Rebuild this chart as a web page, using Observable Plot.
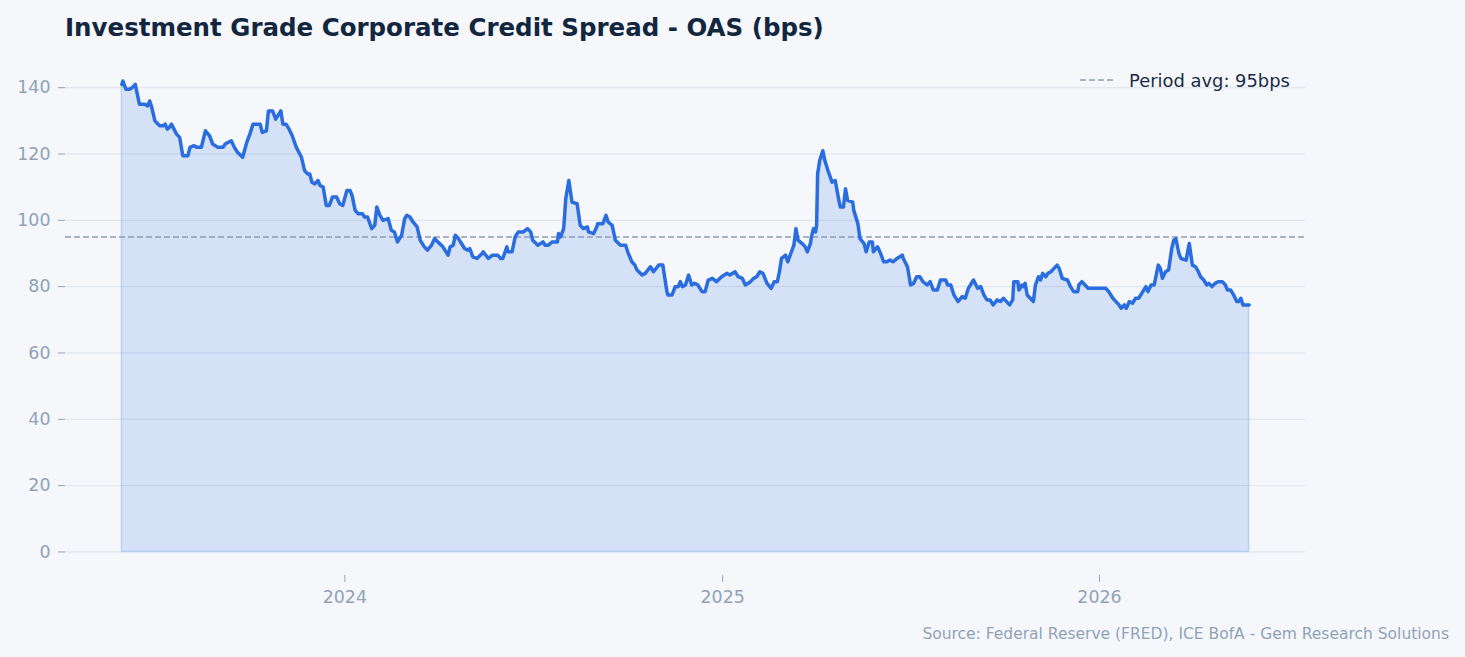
<!DOCTYPE html>
<html><head><meta charset="utf-8">
<script src="https://cdn.jsdelivr.net/npm/d3@7"></script>
<script src="https://cdn.jsdelivr.net/npm/@observablehq/plot@0.6"></script>
<style>
html,body{margin:0;padding:0;background:#f5f7fb;}
body{width:1465px;height:657px;overflow:hidden;font-family:"DejaVu Sans",sans-serif;}
#title{height:50px;box-sizing:border-box;padding:14px 0 0 65px;font-size:24.5px;font-weight:bold;color:#12263f;line-height:28px;white-space:nowrap;}
#chart{height:570px;}
#caption{height:37px;box-sizing:border-box;text-align:right;padding-right:16px;font-size:15.5px;line-height:28px;color:#8fa3b8;white-space:nowrap;}
</style></head><body>
<div id="title">Investment Grade Corporate Credit Spread - OAS (bps)</div>
<div id="chart"></div>
<div id="caption">Source: Federal Reserve (FRED), ICE BofA - Gem Research Solutions</div>
<script>
const dates = [
"2023-05-30","2023-05-31","2023-06-03","2023-06-06","2023-06-09","2023-06-12","2023-06-16","2023-06-21","2023-06-24","2023-06-26","2023-06-28",
"2023-07-01","2023-07-04","2023-07-06","2023-07-09","2023-07-11","2023-07-13","2023-07-15","2023-07-17","2023-07-22","2023-07-25","2023-07-28",
"2023-08-02","2023-08-04","2023-08-08","2023-08-11","2023-08-15","2023-08-19","2023-08-23","2023-08-26","2023-08-31",
"2023-09-05","2023-09-07","2023-09-13","2023-09-16","2023-09-19","2023-09-24","2023-09-28",
"2023-10-01","2023-10-04","2023-10-11","2023-10-13","2023-10-17","2023-10-19","2023-10-23","2023-10-26","2023-10-28","2023-10-31",
"2023-11-02","2023-11-05","2023-11-08","2023-11-11","2023-11-15","2023-11-20","2023-11-23","2023-11-26","2023-11-28","2023-11-30",
"2023-12-03","2023-12-06","2023-12-08","2023-12-11","2023-12-14","2023-12-17","2023-12-20","2023-12-24","2023-12-27","2023-12-30",
"2024-01-03","2024-01-06","2024-01-08","2024-01-11","2024-01-14","2024-01-18","2024-01-20","2024-01-23","2024-01-27","2024-01-30",
"2024-02-01","2024-02-04","2024-02-07","2024-02-12","2024-02-15","2024-02-18","2024-02-21","2024-02-25","2024-02-28",
"2024-03-01","2024-03-04","2024-03-07","2024-03-11","2024-03-14","2024-03-18","2024-03-21","2024-03-25","2024-03-28","2024-03-31",
"2024-04-05","2024-04-10","2024-04-12","2024-04-15","2024-04-17","2024-04-20","2024-04-23","2024-04-26","2024-04-29",
"2024-05-01","2024-05-04","2024-05-08","2024-05-13","2024-05-14","2024-05-19","2024-05-23","2024-05-28","2024-05-31",
"2024-06-02","2024-06-06","2024-06-07","2024-06-11","2024-06-14","2024-06-17","2024-06-22","2024-06-26","2024-06-29",
"2024-07-01","2024-07-06","2024-07-11","2024-07-13","2024-07-16","2024-07-20","2024-07-25","2024-07-26","2024-07-28","2024-07-31",
"2024-08-02","2024-08-05","2024-08-08","2024-08-13","2024-08-16","2024-08-19","2024-08-23","2024-08-24","2024-08-29",
"2024-09-01","2024-09-02","2024-09-07","2024-09-10","2024-09-12","2024-09-16","2024-09-19","2024-09-24","2024-09-29",
"2024-10-01","2024-10-05","2024-10-08","2024-10-10","2024-10-15","2024-10-18","2024-10-23","2024-10-26","2024-10-31",
"2024-11-04","2024-11-08","2024-11-09","2024-11-13","2024-11-16","2024-11-19","2024-11-21","2024-11-23","2024-11-26","2024-11-29",
"2024-12-02","2024-12-05","2024-12-08","2024-12-12","2024-12-15","2024-12-18","2024-12-22","2024-12-26","2024-12-31",
"2025-01-05","2025-01-08","2025-01-13","2025-01-16","2025-01-20","2025-01-23","2025-01-28","2025-01-31",
"2025-02-03","2025-02-06","2025-02-09","2025-02-13","2025-02-17","2025-02-20","2025-02-23","2025-02-25","2025-02-27",
"2025-03-03","2025-03-05","2025-03-08","2025-03-11","2025-03-13","2025-03-15","2025-03-19","2025-03-22","2025-03-24","2025-03-27","2025-03-28","2025-03-30",
"2025-04-01","2025-04-02","2025-04-03","2025-04-05","2025-04-08","2025-04-10","2025-04-13","2025-04-17","2025-04-20","2025-04-23","2025-04-25","2025-04-28","2025-04-30",
"2025-05-02","2025-05-07","2025-05-08","2025-05-12","2025-05-14","2025-05-18","2025-05-20","2025-05-23","2025-05-26","2025-05-27","2025-05-31",
"2025-06-03","2025-06-06","2025-06-09","2025-06-12","2025-06-15","2025-06-19","2025-06-24","2025-06-25","2025-06-29",
"2025-07-02","2025-07-05","2025-07-08","2025-07-11","2025-07-14","2025-07-18","2025-07-21","2025-07-24","2025-07-28","2025-07-31",
"2025-08-05","2025-08-07","2025-08-10","2025-08-13","2025-08-17","2025-08-21","2025-08-24","2025-08-27",
"2025-09-01","2025-09-05","2025-09-08","2025-09-11","2025-09-14","2025-09-17","2025-09-20","2025-09-24","2025-09-27","2025-09-30",
"2025-10-03","2025-10-06","2025-10-09","2025-10-10","2025-10-14","2025-10-15","2025-10-18","2025-10-19","2025-10-21","2025-10-23","2025-10-26","2025-10-29","2025-10-31",
"2025-11-03","2025-11-05","2025-11-07","2025-11-10","2025-11-12","2025-11-15","2025-11-18","2025-11-21","2025-11-23","2025-11-26",
"2025-12-01","2025-12-04","2025-12-07","2025-12-11","2025-12-12","2025-12-15","2025-12-18","2025-12-21","2025-12-26","2025-12-31",
"2026-01-07","2026-01-10","2026-01-14","2026-01-17","2026-01-20","2026-01-22","2026-01-25","2026-01-27","2026-01-30",
"2026-02-02","2026-02-05","2026-02-08","2026-02-12","2026-02-15","2026-02-17","2026-02-20","2026-02-23","2026-02-27",
"2026-03-01","2026-03-03","2026-03-06","2026-03-09","2026-03-12","2026-03-14","2026-03-16","2026-03-19","2026-03-21","2026-03-26","2026-03-28","2026-03-29",
"2026-04-01","2026-04-04","2026-04-06","2026-04-09","2026-04-12","2026-04-15","2026-04-17","2026-04-20","2026-04-23","2026-04-26","2026-04-30",
"2026-05-03","2026-05-05","2026-05-08","2026-05-11","2026-05-14","2026-05-16","2026-05-18","2026-05-20","2026-05-26"
];
const oasValues = [
141,142,139.5,139.5,140,141,135,135,134.5,136,134,
130,129,128.5,128.5,129,127.5,128,129,126,125,119.5,
119.5,122,122.5,122,122,127,125.5,123,122,
122,123,124,122,120.5,119,123.5,
126,129,129,126.5,127,133,133,130.5,131.5,133,
129,129,127.5,125.5,122,119,115,114,114,111.5,
111,112,110.5,110,104.5,104.5,107,107,105,104.5,
109,109,107.5,103,102,102,101,101,97.5,98.5,
104,101.5,100,100.5,97,96.5,93.5,95.5,100.5,
101.5,101,99.5,98,94,92,91,92.5,94.5,93.5,
92,89.5,92,92.5,95.5,94.5,93,91.5,91,
91.5,89,88.5,90,90.5,88.5,89.5,89.5,88.5,
88.5,92,90.5,90.5,95,96.5,96.5,97.5,96.5,
94,92.5,93.5,92.5,92.5,93.5,93.5,96,95,97.5,
106.5,112,105.5,105,98.5,97.5,98,96.5,96,
98,99,99,101.5,99.5,98.5,94,92.5,92.5,
90.5,87.5,86.5,85,83.5,84,86,84.5,86.5,
86.5,78.5,77.5,77.5,80,80,81.5,80,80.5,83.5,
80.5,81,80.5,78.5,78.5,82,82.5,81.5,83,
84,83.5,84.5,83,82.5,80.5,81.5,82.5,
83,84.5,84,81,79.5,81.5,81.5,84.5,88.5,
89.5,87.5,90,92.5,97.5,94,93,92,90.5,93,95,97.5,
96.5,98.5,114,118,121,118,115,111.5,112,107,104,104,109.5,
106,105.5,103,99,94.5,93,90.5,93.5,93.5,90.5,92,
90,87.5,87.5,88,87.5,88.5,89.5,88.5,86,
80.5,81,83,83,81.5,80.5,81.5,79,79,82,
82,80.5,80.5,77.5,75.5,77,76.5,79.5,
82,79.5,80,77.5,76,76,74.5,76,75.5,76.5,
75.5,74.5,76,81.5,81.5,79,80.5,80,81,77.5,76.5,75.5,80.5,
83,82,84,83,84,84.5,85.5,86.5,85.5,82.5,
82,80,78.5,78.5,80.5,81.5,80.5,79.5,79.5,79.5,
79.5,78.5,76.5,75.5,74.5,73.5,74.5,73.5,75.5,
75,76.5,76.5,78.5,80,78.5,80.5,80.5,86.5,
85.5,82.5,84.5,85,91.5,94,94.5,90,88.5,88,91.5,93,
86.5,86,85,83,82,80.5,81,80,81,81.5,81.5,
80.5,79,79,77.5,75.5,75.5,76.5,74.5,74.5
];
const periodAvg = 95;
const yTickValues = [0, 20, 40, 60, 80, 100, 120, 140];
const yearTicks = ["2024", "2025", "2026"];
const titleText = "Investment Grade Corporate Credit Spread - OAS (bps)";
const legendLabel = `Period avg: ${periodAvg}bps`;

const parse = d3.utcParse("%Y-%m-%d");
const data = dates.map((d, i) => ({date: parse(d), oas: oasValues[i]}));
const [t0, t1] = d3.extent(data, d => d.date);
const tPad = (t1 - t0) * 0.05;
const xDomain = [new Date(+t0 - tPad), new Date(+t1 + tPad)];
const vMax = d3.max(oasValues);
const yPad = vMax * 0.05;
const yDomain = [0 - yPad, vMax + yPad];
const xTicks = yearTicks.map(d3.utcParse("%Y"));

const blue = "#2a6ddf";
const tickColor = "#8fa3b8";

const legendMark = (index, scales, values, dims) => {
  const g = d3.create("svg:g");
  const start = dims.width - dims.marginRight - 176;
  const yy = 31;
  g.append("line")
    .attr("x1", start - 49).attr("x2", start - 14)
    .attr("y1", yy - 1).attr("y2", yy - 1)
    .attr("stroke", "#8e9db3").attr("stroke-width", 1.5)
    .attr("stroke-dasharray", "6,3");
  g.append("text")
    .attr("x", start).attr("y", yy).attr("dy", "0.35em")
    .attr("text-anchor", "start")
    .attr("fill", "#1a2b45").attr("font-size", "17.9px")
    .text(legendLabel);
  return g.node();
};

const chart = Plot.plot({
  width: 1465,
  height: 570,
  marginTop: 7,
  marginBottom: 45,
  marginLeft: 65,
  marginRight: 160,
  style: {background: "transparent", fontFamily: "DejaVu Sans", fontSize: "17.4px", overflow: "visible"},
  x: {type: "utc", domain: xDomain},
  y: {domain: yDomain},
  marks: [
    Plot.gridY(yTickValues, {stroke: "#dde3ec", strokeOpacity: 1, strokeWidth: 1}),
    Plot.areaY(data, {x: "date", y: "oas", fill: blue, fillOpacity: 0.16, stroke: blue, strokeOpacity: 0.2, strokeWidth: 1.5}),
    Plot.ruleY([periodAvg], {stroke: "#8e9db3", strokeWidth: 1.5, strokeDasharray: "6,3"}),
    Plot.lineY(data, {x: "date", y: "oas", stroke: blue, strokeWidth: 3.5, strokeLinejoin: "round"}),
    Plot.axisY(yTickValues, {tickSize: 7, tickPadding: 8, color: tickColor, label: null}),
    Plot.axisX(xTicks, {tickSize: 7, tickPadding: 8, color: tickColor, tickFormat: "%Y", label: null}),
    legendMark
  ]
});
document.getElementById("chart").appendChild(chart);
document.getElementById("title").textContent = titleText;
</script>
</body></html>
